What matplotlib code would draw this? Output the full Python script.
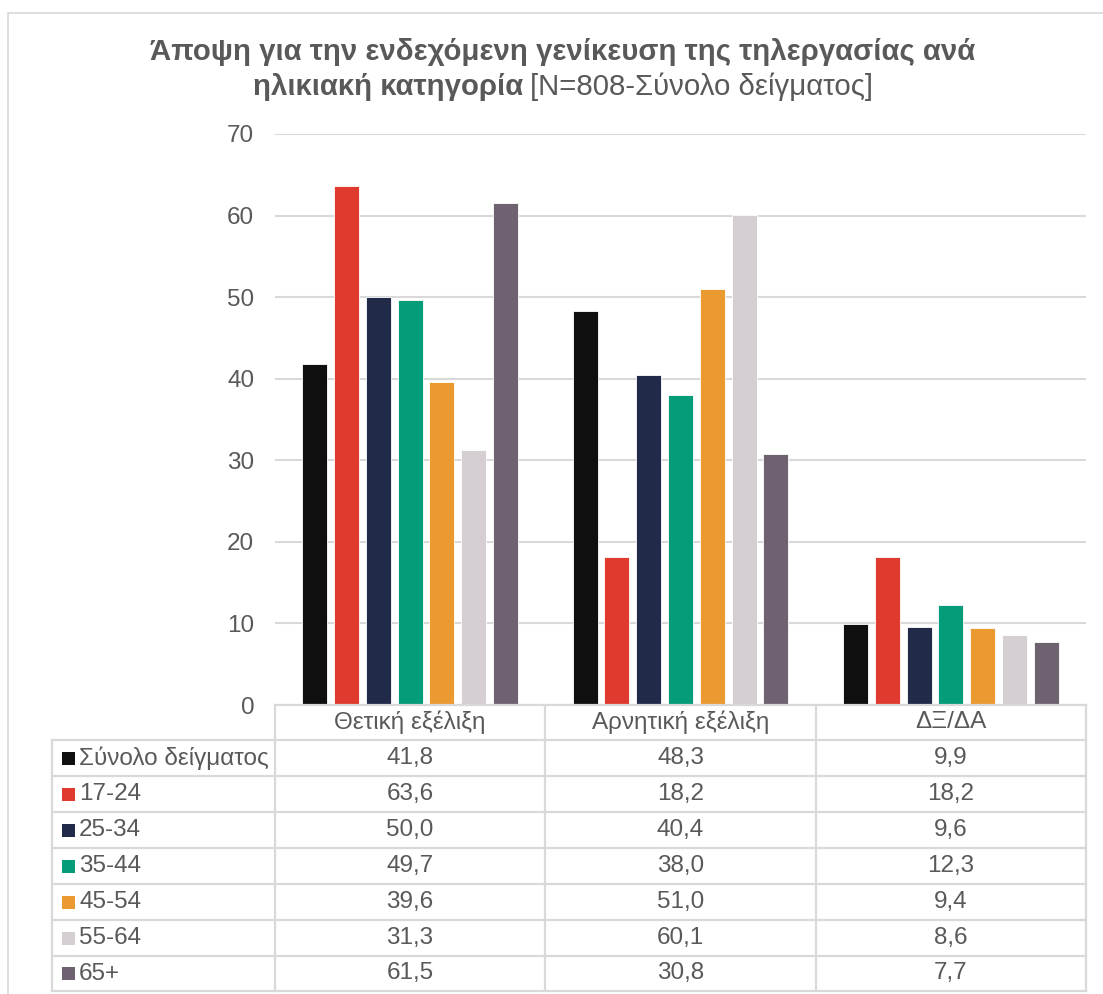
import matplotlib
matplotlib.use("Agg")
import matplotlib.pyplot as plt
from matplotlib.lines import Line2D
from matplotlib.patches import Rectangle

plt.rcParams['font.family'] = ['Liberation Sans', 'DejaVu Sans']

categories = ["Θετική εξέλιξη", "Αρνητική εξέλιξη", "ΔΞ/ΔΑ"]
series_names = ["Σύνολο δείγματος", "17-24", "25-34", "35-44", "45-54", "55-64", "65+"]
total = [41.8, 48.3, 9.9]
age_17_24 = [63.6, 18.2, 18.2]
age_25_34 = [50.0, 40.4, 9.6]
age_35_44 = [49.7, 38.0, 12.3]
age_45_54 = [39.6, 51.0, 9.4]
age_55_64 = [31.3, 60.1, 8.6]
age_65p = [61.5, 30.8, 7.7]
series_values = [total, age_17_24, age_25_34, age_35_44, age_45_54, age_55_64, age_65p]
colors = ["#0f0f0f", "#e03a2e", "#222a4a", "#049c79", "#ea9a31", "#d5cfd3", "#6e6270"]
yticks = [0, 10, 20, 30, 40, 50, 60, 70]

W, H = 1103, 994
fig = plt.figure(figsize=(W / 100, H / 100), dpi=100)
TXT = "#595959"
GRID = "#d9d9d9"
FS = 17.5

def fx(px):
    return px / W

def fy(py):
    return 1 - py / H

# outer border
fig.add_artist(Rectangle((fx(8), fy(1000)), fx(1200), fy(13) - fy(1000), transform=fig.transFigure,
                         fill=False, edgecolor=GRID, linewidth=1.2))

x0, x1 = 275, 1086
y0, ytop = 705, 134
ax = fig.add_axes([fx(x0), fy(y0), fx(x1) - fx(x0), fy(ytop) - fy(y0)])
ax.set_xlim(0, 3)
ax.set_ylim(0, 70)
n = len(series_names)
pitch = 0.1177
bw = 0.0925
for i, (vals, c) in enumerate(zip(series_values, colors)):
    xs = [k + 0.5 + (i - (n - 1) / 2) * pitch for k in range(len(categories))]
    ax.bar(xs, vals, width=bw, color=c, edgecolor="white", linewidth=0.6, zorder=3, label=series_names[i])
ax.set_yticks(yticks)
ax.set_yticklabels([str(t) for t in yticks], fontsize=FS, color=TXT)
ax.tick_params(axis='y', length=0, pad=15)
ax.set_xticks([])
ax.grid(axis='y', color=GRID, linewidth=1.5, zorder=0)
for s in ax.spines.values():
    s.set_visible(False)

# title
TFS = 21.2
fig.text(fx(563), fy(52), "Άποψη για την ενδεχόμενη γενίκευση της τηλεργασίας ανά",
         ha="center", va="center", fontsize=TFS, fontweight="bold", color=TXT)
t1 = fig.text(0, fy(87), "ηλικιακή κατηγορία", ha="left", va="center",
              fontsize=TFS, fontweight="bold", color=TXT)
t2 = fig.text(0, fy(87), "[N=808-Σύνολο δείγματος]", ha="left", va="center",
              fontsize=TFS, color=TXT)
fig.canvas.draw()
b1 = t1.get_window_extent()
b2 = t2.get_window_extent()
gap = 6
total_w = b1.width + gap + b2.width
start = 563 - total_w / 2
t1.set_x(fx(start))
t2.set_x(fx(start + b1.width + gap))

# data table
col_x = [275, 545, 816, 1086]
leg_left = 52
row_y = [705, 740, 776, 812, 848, 884, 920, 956, 991]
lw = 1.6
def hline(y, xa, xb):
    fig.add_artist(Line2D([fx(xa), fx(xb)], [fy(y), fy(y)], transform=fig.transFigure, color=GRID, linewidth=lw))
def vline(x, ya, yb):
    fig.add_artist(Line2D([fx(x), fx(x)], [fy(ya), fy(yb)], transform=fig.transFigure, color=GRID, linewidth=lw))

hline(row_y[0], col_x[0], col_x[-1])
for y in row_y[1:]:
    hline(y, leg_left, col_x[-1])
for x in col_x:
    vline(x, row_y[0], row_y[-1])
vline(leg_left, row_y[1], row_y[-1])

for k, cat in enumerate(categories):
    cx = (col_x[k] + col_x[k + 1]) / 2
    fig.text(fx(cx), fy((row_y[0] + row_y[1]) / 2), cat, ha="center", va="center", fontsize=FS, color=TXT)

for i, name in enumerate(series_names):
    ym = (row_y[i + 1] + row_y[i + 2]) / 2
    fig.add_artist(Rectangle((fx(62), fy(ym + 6.5)), fx(13), fy(ym - 6.5) - fy(ym + 6.5),
                             transform=fig.transFigure, facecolor=colors[i], edgecolor="none"))
    fig.text(fx(79), fy(ym), name, ha="left", va="center", fontsize=FS, color=TXT)
    for k in range(len(categories)):
        cx = (col_x[k] + col_x[k + 1]) / 2
        fig.text(fx(cx), fy(ym), f"{series_values[i][k]:.1f}".replace(".", ","),
                 ha="center", va="center", fontsize=FS, color=TXT)

fig.savefig("out.png", dpi=100, facecolor="white")
